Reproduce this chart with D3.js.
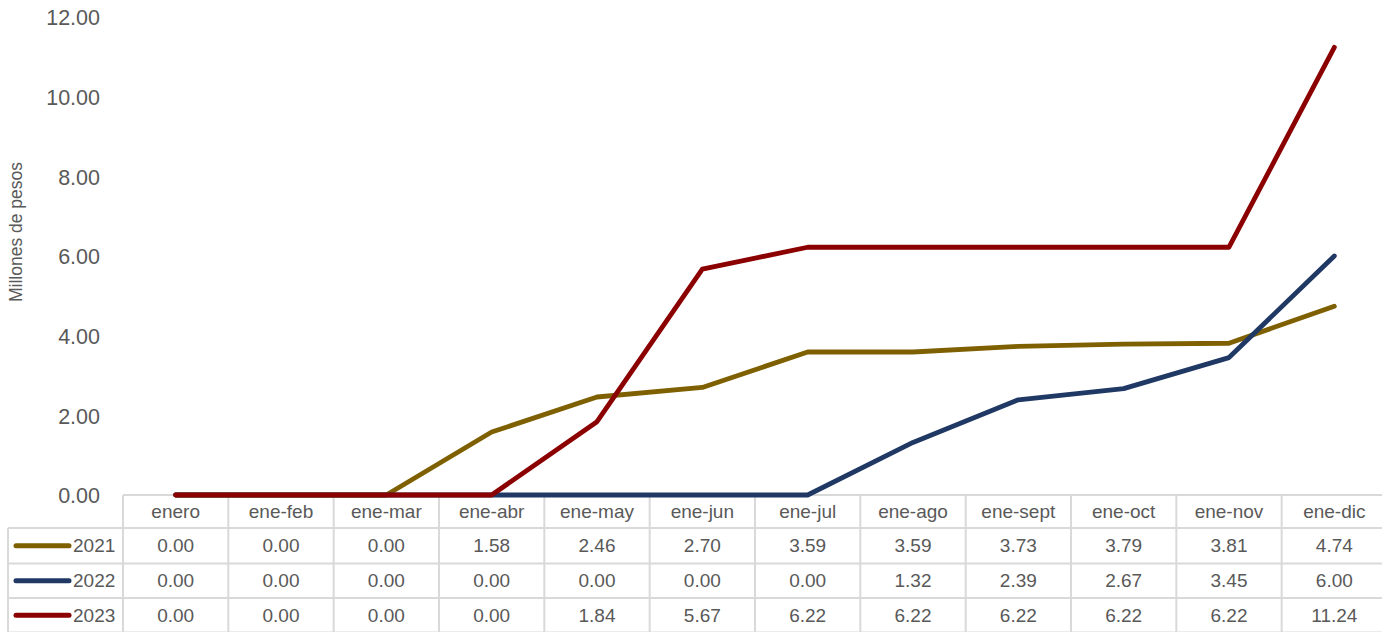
<!DOCTYPE html>
<html>
<head>
<meta charset="utf-8">
<script src="https://cdn.jsdelivr.net/npm/d3@7"></script>
<style>
  html, body { margin: 0; padding: 0; background: #fff; }
  svg { display: block; font-family: "Liberation Sans", Arial, sans-serif; }
</style>
</head>
<body>
<svg id="chart" width="1382" height="632"></svg>
<script>
// Accumulated amounts (millions of pesos), January through each month
const categories = ["enero", "ene-feb", "ene-mar", "ene-abr", "ene-may", "ene-jun",
                    "ene-jul", "ene-ago", "ene-sept", "ene-oct", "ene-nov", "ene-dic"];
const values2021 = [0.00, 0.00, 0.00, 1.58, 2.46, 2.70, 3.59, 3.59, 3.73, 3.79, 3.81, 4.74];
const values2022 = [0.00, 0.00, 0.00, 0.00, 0.00, 0.00, 0.00, 1.32, 2.39, 2.67, 3.45, 6.00];
const values2023 = [0.00, 0.00, 0.00, 0.00, 1.84, 5.67, 6.22, 6.22, 6.22, 6.22, 6.22, 11.24];
const seriesNames = ["2021", "2022", "2023"];
const seriesColors = ["#7f6000", "#203864", "#8b0000"];
const yTicks = [0, 2, 4, 6, 8, 10, 12];
const yTitle = "Millones de pesos";

const series = seriesNames.map((name, i) => ({
  name,
  color: seriesColors[i],
  values: [values2021, values2022, values2023][i]
}));

const svg = d3.select("#chart");
const textColor = "#595959";
const gridColor = "#d9d9d9";
const fmt = d3.format(".2f");
const tableFont = 19;

const x = d3.scaleBand().domain(categories).range([123, 1387]).padding(0);
const y = d3.scaleLinear().domain([0, 12]).range([495, 17]);
const cx = c => x(c) + x.bandwidth() / 2;

// Data table beneath the plot
const headerTop = 495, rowH = [33, 35.5, 34.5, 34.5];
const rowTops = [headerTop];
rowH.forEach((h, i) => rowTops.push(rowTops[i] + h));
const table = svg.append("g").attr("stroke", gridColor).attr("stroke-width", 2);

// horizontal rules
table.append("line").attr("x1", 123).attr("x2", 1387).attr("y1", rowTops[0]).attr("y2", rowTops[0]);
for (let r = 1; r < rowTops.length; r++) {
  table.append("line").attr("x1", 8).attr("x2", 1387).attr("y1", rowTops[r]).attr("y2", rowTops[r]);
}
// vertical rules
table.append("line").attr("x1", 8).attr("x2", 8).attr("y1", rowTops[1]).attr("y2", rowTops[4]);
categories.forEach(c => {
  table.append("line").attr("x1", x(c)).attr("x2", x(c)).attr("y1", rowTops[0]).attr("y2", rowTops[4]);
});
table.append("line").attr("x1", x.range()[1]).attr("x2", x.range()[1]).attr("y1", rowTops[0]).attr("y2", rowTops[4]);

// header labels
svg.append("g").selectAll("text").data(categories).join("text")
  .attr("x", d => cx(d))
  .attr("y", (rowTops[0] + rowTops[1]) / 2)
  .attr("text-anchor", "middle")
  .attr("dominant-baseline", "central")
  .attr("font-size", tableFont)
  .attr("fill", textColor)
  .text(d => d);

// series rows with legend keys
series.forEach((s, i) => {
  const mid = (rowTops[i + 1] + rowTops[i + 2]) / 2;
  const row = svg.append("g");
  row.append("line")
    .attr("x1", 16).attr("x2", 69).attr("y1", mid).attr("y2", mid)
    .attr("stroke", s.color).attr("stroke-width", 5).attr("stroke-linecap", "round");
  row.append("text")
    .attr("x", 73).attr("y", mid)
    .attr("dominant-baseline", "central")
    .attr("font-size", tableFont).attr("fill", textColor)
    .text(s.name);
  row.selectAll("text.val").data(s.values).join("text")
    .attr("class", "val")
    .attr("x", (d, j) => cx(categories[j]))
    .attr("y", mid)
    .attr("text-anchor", "middle")
    .attr("dominant-baseline", "central")
    .attr("font-size", tableFont).attr("fill", textColor)
    .text(d => fmt(d));
});

// Y axis
const yAxis = svg.append("g")
  .attr("transform", "translate(123,0)")
  .call(d3.axisLeft(y).tickValues(yTicks).tickFormat(fmt).tickSize(0).tickPadding(23));
yAxis.select(".domain").remove();
yAxis.selectAll("text")
  .attr("font-family", "Liberation Sans, Arial, sans-serif")
  .attr("font-size", 21.5)
  .attr("fill", textColor)
  .attr("dy", "0.36em");

svg.append("text")
  .attr("transform", "translate(22,232) rotate(-90)")
  .attr("text-anchor", "middle")
  .attr("font-size", 17.5)
  .attr("fill", textColor)
  .text(yTitle);

// Lines
const line = d3.line()
  .x((d, j) => cx(categories[j]))
  .y(d => y(d));

svg.append("g").selectAll("path").data(series).join("path")
  .attr("d", d => line(d.values))
  .attr("fill", "none")
  .attr("stroke", d => d.color)
  .attr("stroke-width", 4.8)
  .attr("stroke-linecap", "round")
  .attr("stroke-linejoin", "round");
</script>
</body>
</html>
